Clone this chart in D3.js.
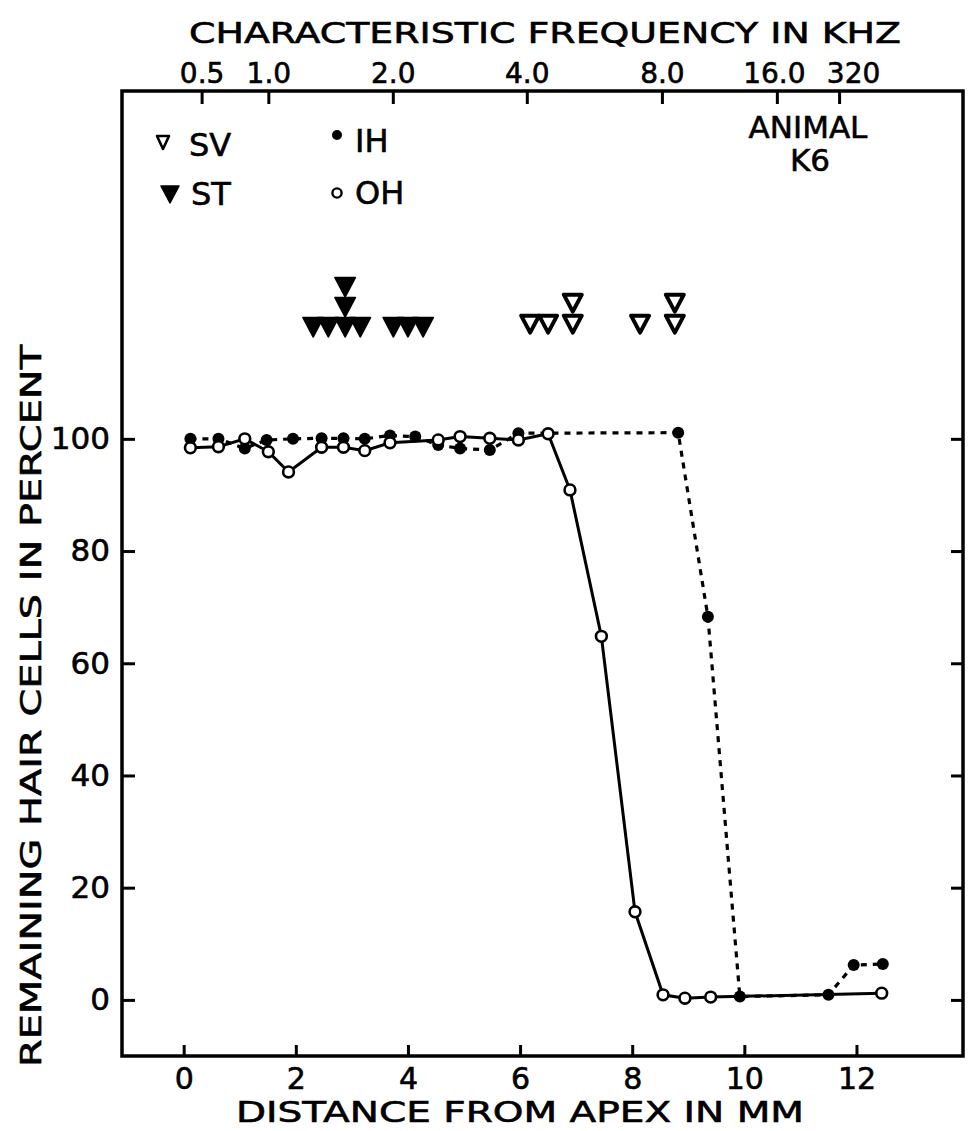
<!DOCTYPE html>
<html>
<head>
<meta charset="utf-8">
<script src="https://cdn.jsdelivr.net/npm/d3@7"></script>
<style>
  body { margin: 0; background: #fff; }
  svg text { font-family: 'DejaVu Sans', sans-serif; fill: #000; stroke: #000; stroke-width: 0.6px; }
</style>
</head>
<body>
<div id="chart"></div>
<script>
// inner hair cells (filled dots), distance from apex in mm / percent remaining
const ihDist = [0.12, 0.62, 1.09, 1.48, 1.95, 2.46, 2.85, 3.23, 3.68, 4.13, 4.54, 4.93, 5.46, 5.97, 8.82, 9.35, 9.92, 11.50, 11.95, 12.47];
const ihPct = [100.0, 100.0, 98.3, 99.8, 100.0, 100.1, 100.1, 100.0, 100.6, 100.4, 98.9, 98.3, 98.0, 101.0, 101.1, 68.3, 0.6, 0.9, 6.2, 6.4];

// outer hair cells (open circles)
const ohDist = [0.12, 0.62, 1.09, 1.51, 1.87, 2.46, 2.85, 3.23, 3.68, 4.54, 4.93, 5.46, 5.97, 6.50, 6.89, 7.45, 8.05, 8.55, 8.94, 9.40, 12.45];
const ohPct = [98.4, 98.6, 100.0, 97.7, 94.1, 98.5, 98.5, 97.9, 99.3, 99.8, 100.4, 100.1, 99.8, 100.9, 90.9, 64.8, 15.7, 0.9, 0.3, 0.5, 1.2];

// lesion marks, repeated distances are stacked
const svDist = [6.18, 6.50, 6.94, 6.94, 8.14, 8.76, 8.76];
const stDist = [2.31, 2.58, 2.88, 2.88, 2.88, 3.15, 3.74, 4.00, 4.27];
const markRow = 120; // percent level of the lesion row

// axes
const mmTicks = [0, 2, 4, 6, 8, 10, 12];
const pctTicks = [0, 20, 40, 60, 80, 100];
const freqDist = [0.32, 1.51, 3.73, 6.12, 8.53, 10.58, 11.69];
const freqLabels = ['0.5', '1.0', '2.0', '4.0', '8.0', '16.0', '320'];

const W = 969, H = 1131;
const svg = d3.select('#chart').append('svg')
  .attr('width', W)
  .attr('height', H);

const x = d3.scaleLinear().domain([-1.1, 13.9]).range([122, 963]);
const y = d3.scaleLinear().domain([-10, 162]).range([1056, 91]);

// frame
svg.append('rect')
  .attr('x', x(-1.1))
  .attr('y', y(162))
  .attr('width', x(13.9) - x(-1.1))
  .attr('height', y(-10) - y(162))
  .attr('fill', 'none')
  .attr('stroke', '#000')
  .attr('stroke-width', 3.5);

function styleAxis(g, size) {
  g.select('.domain').remove();
  g.selectAll('line').attr('stroke', '#000').attr('stroke-width', 3);
  g.selectAll('text').style('font-size', size + 'px');
  g.attr('font-family', null).attr('font-size', null);
}

// bottom axis
svg.append('g')
  .attr('transform', `translate(0,${y(-10)})`)
  .call(d3.axisBottom(x).tickValues(mmTicks).tickSizeInner(-11).tickSizeOuter(0).tickPadding(12))
  .call(g => styleAxis(g, 30));

// left axis
svg.append('g')
  .attr('transform', `translate(${x(-1.1)},0)`)
  .call(d3.axisLeft(y).tickValues(pctTicks).tickSizeInner(-13).tickSizeOuter(0).tickPadding(12))
  .call(g => styleAxis(g, 31));

// right axis, ticks only
svg.append('g')
  .attr('transform', `translate(${x(13.9)},0)`)
  .call(d3.axisRight(y).tickValues(pctTicks).tickSizeInner(-12).tickSizeOuter(0).tickFormat(''))
  .call(g => styleAxis(g, 30));

// top axis: characteristic frequency
svg.append('g')
  .attr('transform', `translate(0,${y(162)})`)
  .call(d3.axisTop(x).tickValues(freqDist).tickSizeInner(-13).tickSizeOuter(0).tickPadding(8)
    .tickFormat((d, i) => freqLabels[i]))
  .call(g => styleAxis(g, 28))
  .call(g => g.selectAll('text')
    .attr('dx', (d, i) => (i === freqLabels.length - 1 ? 14 : i === freqLabels.length - 2 ? -3 : 0)));

// titles
svg.append('text')
  .attr('x', 545).attr('y', 43)
  .attr('text-anchor', 'middle')
  .attr('textLength', 712).attr('lengthAdjust', 'spacingAndGlyphs')
  .style('font-size', '29px')
  .text('CHARACTERISTIC FREQUENCY IN KHZ');

svg.append('text')
  .attr('x', 520).attr('y', 1122)
  .attr('text-anchor', 'middle')
  .attr('textLength', 568).attr('lengthAdjust', 'spacingAndGlyphs')
  .style('font-size', '29px')
  .text('DISTANCE FROM APEX IN MM');

svg.append('text')
  .attr('transform', 'translate(41,706) rotate(-90)')
  .attr('text-anchor', 'middle')
  .attr('textLength', 722).attr('lengthAdjust', 'spacingAndGlyphs')
  .style('font-size', '28px')
  .text('REMAINING HAIR CELLS IN PERCENT');

svg.append('text')
  .attr('x', 808).attr('y', 138)
  .attr('text-anchor', 'middle')
  .style('font-size', '31px')
  .text('ANIMAL');
svg.append('text')
  .attr('x', 810).attr('y', 171)
  .attr('text-anchor', 'middle')
  .style('font-size', '31px')
  .text('K6');

// series lines
const line = d3.line().x(d => x(d[0])).y(d => y(d[1]));
const ih = ihDist.map((d, i) => [d, ihPct[i]]);
const oh = ohDist.map((d, i) => [d, ohPct[i]]);

svg.append('path')
  .datum(ih)
  .attr('d', line)
  .attr('fill', 'none')
  .attr('stroke', '#000')
  .attr('stroke-width', 3.2)
  .attr('stroke-dasharray', '6,6');

svg.append('path')
  .datum(oh)
  .attr('d', line)
  .attr('fill', 'none')
  .attr('stroke', '#000')
  .attr('stroke-width', 3);

svg.selectAll('.ih')
  .data(ih)
  .enter()
  .append('circle')
  .attr('class', 'ih')
  .attr('cx', d => x(d[0]))
  .attr('cy', d => y(d[1]))
  .attr('r', 6)
  .attr('fill', '#000');

svg.selectAll('.oh')
  .data(oh)
  .enter()
  .append('circle')
  .attr('class', 'oh')
  .attr('cx', d => x(d[0]))
  .attr('cy', d => y(d[1]))
  .attr('r', 5.4)
  .attr('fill', '#fff')
  .attr('stroke', '#000')
  .attr('stroke-width', 2.6);

// lesion triangles, stacked by repeat count
function stack(arr) {
  const seen = {};
  return arr.map(d => {
    seen[d] = (seen[d] || 0) + 1;
    return { d: d, level: seen[d] - 1 };
  });
}
const triOpen = 'M-9,-8L9,-8L0,9Z';
const triFill = 'M-10,-9L10,-9L0,10Z';

svg.selectAll('.st')
  .data(stack(stDist))
  .enter()
  .append('path')
  .attr('class', 'st')
  .attr('d', triFill)
  .attr('transform', p => `translate(${x(p.d)},${y(markRow) - p.level * 20})`)
  .attr('fill', '#000')
  .attr('stroke', '#000')
  .attr('stroke-width', 2)
  .attr('stroke-linejoin', 'round');

svg.selectAll('.sv')
  .data(stack(svDist))
  .enter()
  .append('path')
  .attr('class', 'sv')
  .attr('d', triOpen)
  .attr('transform', p => `translate(${x(p.d)},${y(markRow) - 3 - p.level * 21})`)
  .attr('fill', '#fff')
  .attr('stroke', '#000')
  .attr('stroke-width', 4)
  .attr('stroke-linejoin', 'round');

// legend
const legend = svg.append('g');
legend.append('path')
  .attr('d', 'M-6,-6L6,-6L0,7Z')
  .attr('transform', 'translate(163,142)')
  .attr('fill', '#fff').attr('stroke', '#000').attr('stroke-width', 2.6)
  .attr('stroke-linejoin', 'round');
legend.append('text').attr('x', 189).attr('y', 156).style('font-size', '32px').text('SV');

legend.append('path')
  .attr('d', 'M-9,-8L9,-8L0,9Z')
  .attr('transform', 'translate(170,194)')
  .attr('fill', '#000').attr('stroke', '#000').attr('stroke-width', 1.5)
  .attr('stroke-linejoin', 'round');
legend.append('text').attr('x', 191).attr('y', 205).style('font-size', '32px').text('ST');

legend.append('circle').attr('cx', 337).attr('cy', 135).attr('r', 5).attr('fill', '#000');
legend.append('text').attr('x', 355).attr('y', 152).style('font-size', '32px').text('IH');

legend.append('circle').attr('cx', 337).attr('cy', 193).attr('r', 4.6)
  .attr('fill', '#fff').attr('stroke', '#000').attr('stroke-width', 2.4);
legend.append('text').attr('x', 355).attr('y', 204).style('font-size', '32px').text('OH');
</script>
</body>
</html>
